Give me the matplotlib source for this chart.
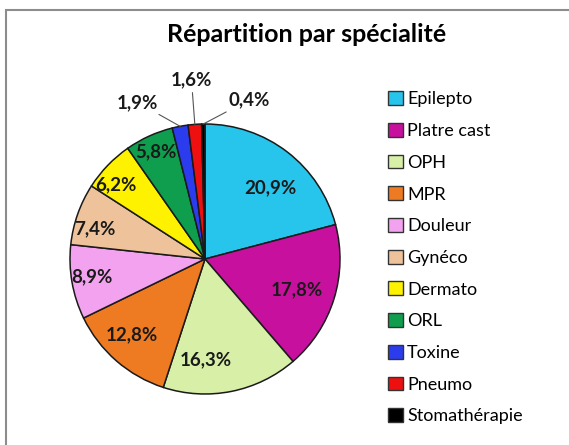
import numpy as np
import matplotlib
matplotlib.use('Agg')
import matplotlib.pyplot as plt
from matplotlib.patches import Rectangle

labels = ['Epilepto', 'Platre cast', 'OPH', 'MPR', 'Douleur', 'Gynéco',
          'Dermato', 'ORL', 'Toxine', 'Pneumo', 'Stomathérapie']
values = [20.9, 17.8, 16.3, 12.8, 8.9, 7.4, 6.2, 5.8, 1.9, 1.6, 0.4]
pct_text = ['20,9%', '17,8%', '16,3%', '12,8%', '8,9%', '7,4%',
            '6,2%', '5,8%', '1,9%', '1,6%', '0,4%']
colors = ['#27C4EC', '#C8109E', '#D8EFA8', '#EE7A22', '#F2A2EE', '#EEC29A',
          '#FFF200', '#0E9E4E', '#2A3CEE', '#EE1010', '#000000']

# label placement (radius in pie units, angular shift in degrees)
lab_r = [0.72, 0.72, 0.75, 0.78, 0.85, 0.85, 0.86, 0.87, 1.21, 1.33, 1.19]
lab_shift = [-5, -1, -11, -3, -1, 4, 4, 0, 6, 0, -9]

plt.rcParams['font.family'] = ['Lato', 'DejaVu Sans']

W, H = 569, 445
fig = plt.figure(figsize=(W / 100, H / 100), dpi=100)
fig.patch.set_facecolor('white')

# outer frame
fig.add_artist(Rectangle((6 / W, -0.1), 1.0, (H - 10) / H + 0.1,
                         transform=fig.transFigure, fill=False,
                         edgecolor='#8c8c8c', linewidth=1.5))

cx, cy, R = 205, H - 259, 135
ax = fig.add_axes([(cx - R) / W, (cy - R) / H, 2 * R / W, 2 * R / H])

wedges, _ = ax.pie(values, colors=colors, startangle=90, counterclock=False,
                   radius=1, wedgeprops=dict(edgecolor='#1a1a1a', linewidth=1.1))
ax.set_xlim(-1, 1)
ax.set_ylim(-1, 1)
ax.axis('off')

for i, w in enumerate(wedges):
    mid = (w.theta1 + w.theta2) / 2
    ang = np.deg2rad(mid + lab_shift[i])
    x, y = lab_r[i] * np.cos(ang), lab_r[i] * np.sin(ang)
    if lab_r[i] > 1:
        ex, ey = 1.0 * np.cos(np.deg2rad(mid)), 1.0 * np.sin(np.deg2rad(mid))
        ha = 'right' if i == 8 else ('left' if i == 10 else 'center')
        ax.annotate(pct_text[i], xy=(ex, ey), xytext=(x, y),
                    ha=ha, va='center', fontsize=13.5, fontweight='bold',
                    color='#1a1a1a', annotation_clip=False,
                    arrowprops=dict(arrowstyle='-', color='#555555', lw=0.8,
                                    shrinkA=1, shrinkB=0))
    else:
        ax.text(x, y, pct_text[i], ha='center', va='center', fontsize=13.5,
                fontweight='bold', color='#1a1a1a')

fig.text(307 / W, 1 - 35 / H, 'Répartition par spécialité', ha='center',
         va='center', fontsize=18, fontweight='bold')

handles = [Rectangle((0, 0), 1, 1, facecolor=c, edgecolor='#333333', lw=1)
           for c in colors]
fig.legend(handles, labels, loc='upper left', bbox_to_anchor=(381 / W, 1 - 84 / H),
           frameon=False, fontsize=13, handlelength=0.8, handleheight=0.8,
           handletextpad=0.25, labelspacing=0.86, borderaxespad=0)

fig.savefig('out.png', dpi=100)
